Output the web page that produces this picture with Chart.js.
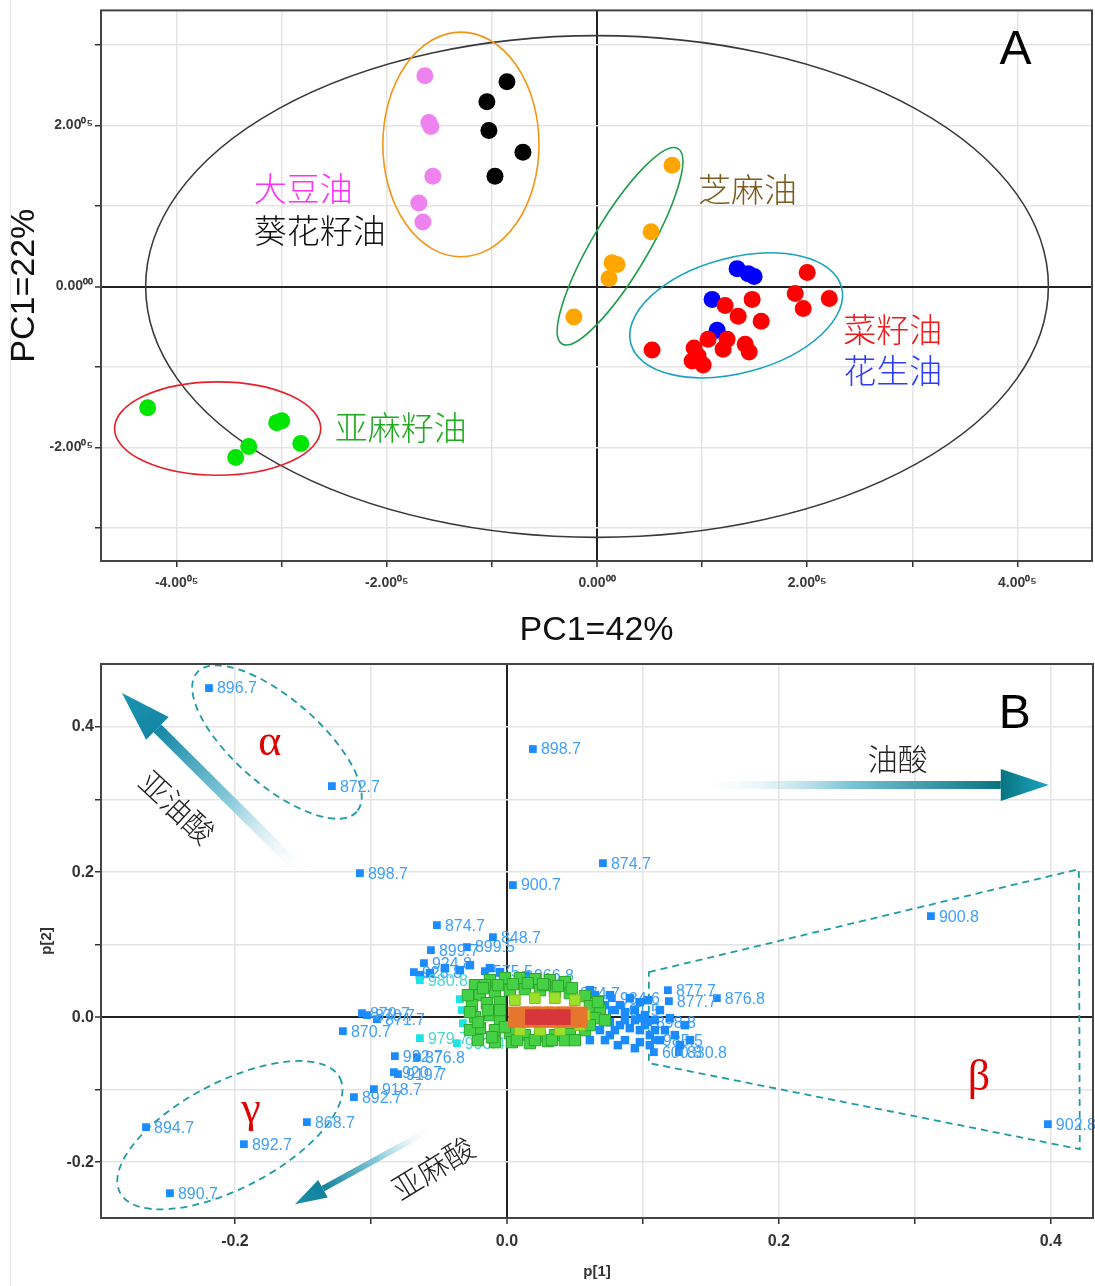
<!DOCTYPE html>
<html>
<head>
<meta charset="utf-8">
<script src="https://cdn.jsdelivr.net/npm/chart.js@4.4.1/dist/chart.umd.min.js"></script>
<style>
body { margin: 0; background: #fff; }
#wrap { position: relative; width: 1095px; height: 1286px; }
canvas { display: block; }
#edge { position: absolute; left: 10px; top: 0; width: 1px; height: 1286px; background: #e6e6e6; }
</style>
</head>
<body>
<div id="wrap">
<canvas id="chartA" width="1095" height="650"></canvas>
<canvas id="chartB" width="1095" height="636"></canvas>
<div id="edge"></div>
</div>
<script>
//////////////////////////////// A : score plot (units of 1e5) ////////////////////////////////

var soyX = [-1.638, -1.600, -1.581, -1.562, -1.695, -1.657];
var soyY = [2.617, 2.037, 1.988, 1.370, 1.037, 0.802];
var sunX = [-0.857, -1.048, -1.029, -0.705, -0.971];
var sunY = [2.543, 2.296, 1.938, 1.667, 1.370];
var sesX = [0.714, 0.514, 0.143, 0.190, 0.114, -0.220];
var sesY = [1.506, 0.679, 0.296, 0.272, 0.099, -0.380];
var rapeX = [2.000, 1.886, 1.962, 2.210, 1.476, 1.219, 1.343, 1.562, 1.057, 1.238, 1.200, 1.410, 1.448, 0.924, 0.905, 1.010, 0.962, 0.524];
var rapeY = [0.173, -0.086, -0.272, -0.148, -0.160, -0.235, -0.370, -0.432, -0.654, -0.654, -0.778, -0.716, -0.815, -0.765, -0.926, -0.975, -0.864, -0.790];
var peaX = [1.333, 1.438, 1.495, 1.095, 1.143];
var peaY = [0.222, 0.160, 0.123, -0.160, -0.543];
var linX = [-4.276, -3.048, -3.000, -3.314, -3.438, -2.819];
var linY = [-1.506, -1.691, -1.667, -1.988, -2.123, -1.951];

var ticksAX = [-4, -3, -2, -1, 0, 1, 2, 3, 4];
var ticksAXLabels = ['-4.00⁰⁵', '', '-2.00⁰⁵', '', '0.00⁰⁰', '', '2.00⁰⁵', '', '4.00⁰⁵'];
var ticksAY = [-3, -2, -1, 0, 1, 2, 3];
var ticksAYLabels = ['', '-2.00⁰⁵', '', '0.00⁰⁰', '', '2.00⁰⁵', ''];

//////////////////////////////// B : loading plot ////////////////////////////////

var loadX = [-0.2191, -0.1287, -0.1081, 0.0191, 0.0706, 0.0044, 0.3118, 0.3978,
  -0.0515, -0.0103, -0.0559, -0.0294, -0.0610, -0.0684, -0.0162, 0.0140,
  -0.1066, -0.1029, -0.0956, -0.1206, -0.0824, -0.0662, -0.0831, -0.0801,
  -0.0978, -0.1125, -0.1471, -0.2654, -0.1934, -0.2478,
  0.1184, 0.1191, 0.1544, 0.0772, 0.0478, 0.0772, 0.1037, 0.1088, 0.1081, 0.1265];
var loadY = [0.4538, 0.3186, 0.1986, 0.3697, 0.2124, 0.1821, 0.1393, -0.1476,
  0.1269, 0.1103, 0.0924, 0.0966, 0.0745, 0.0621, 0.0634, 0.0579,
  0.0055, 0.0028, -0.0028, -0.0193, -0.0538, -0.0552, -0.0759, -0.0786,
  -0.0993, -0.1103, -0.1448, -0.1517, -0.1752, -0.2428,
  0.0372, 0.0221, 0.0262, 0.0262, 0.0331, 0.0097, -0.0069, -0.0317, -0.0483, -0.0483];
var loadLabels = ['896.7', '872.7', '898.7', '898.7', '874.7', '900.7', '900.8', '902.8',
  '874.7', '848.7', '899.7', '899.5', '924.8', '928.8', '575.5', '966.8',
  '870.7', '870.7', '871.7', '870.7', '922.7', '876.8', '920.7', '919.7',
  '918.7', '892.7', '868.7', '894.7', '892.7', '890.7',
  '877.7', '877.7', '876.8', '984.6', '874.7', '101.5', '898.8', '985.5', '600.8', '830.8'];

var blueX = [0.0684, 0.0757, 0.0904, 0.0978, 0.1037, 0.0794, 0.0868, 0.0941, 0.1015, 0.1088,
  0.0757, 0.0831, 0.0904, 0.0978, 0.1051, 0.1125, 0.1162, 0.1235, 0.1309, 0.1199,
  0.0684, 0.0757, 0.0868, 0.0978, 0.0816, 0.0610, 0.0721, 0.0610,
  0.0647, 0.0721, 0.0794, 0.0868, 0.0941, 0.1015, 0.1088, 0.1125, 0.1051, 0.0941,
  0.0684, 0.0831, 0.0978, 0.1272, 0.1346,
  -0.0640, -0.0566, -0.0456, -0.0346, -0.0272, -0.0125, -0.0051];
var blueY = [0.0234, 0.0303, 0.0262, 0.0207, 0.0234, 0.0097, 0.0069, 0.0097, 0.0028, -0.0041,
  -0.0069, -0.0110, -0.0152, -0.0179, -0.0248, -0.0317, -0.0179, -0.0248, -0.0110, -0.0014,
  -0.0179, -0.0248, -0.0317, -0.0345, -0.0386, -0.0317, 0.0166, 0.0372,
  0.0303, -0.0317, -0.0179, -0.0041, -0.0041, -0.0110, -0.0179, 0.0097, -0.0386, -0.0428,
  0.0028, 0.0166, -0.0014, -0.0386, -0.0317,
  0.0579, 0.0607, 0.0676, 0.0648, 0.0717, 0.0676, 0.0621];

var cyanX = [-0.0640, -0.0346, -0.0331, -0.0324, -0.0640, -0.0368];
var cyanY = [0.0510, 0.0248, 0.0097, -0.0083, -0.0290, -0.0359];
var cyanLabels = ['980.8', '', '', '', '979.7', '993.4'];

var greenX = [-0.0235, -0.0125, -0.0015, 0.0096, 0.0206, 0.0316, 0.0426, -0.0199, -0.0088, 0.0022,
  0.0132, 0.0243, 0.0353, 0.0463, 0.0574, -0.0257, -0.0147, -0.0051, 0.0610, 0.0684,
  -0.0235, -0.0125, -0.0051, 0.0647, 0.0721, -0.0199, -0.0088, 0.0022, 0.0132, 0.0243,
  0.0353, 0.0463, 0.0574, -0.0213, -0.0088, 0.0037, 0.0169, 0.0301, 0.0426,
  -0.0162, 0.0279, -0.0287, -0.0272,
  -0.0176, -0.0066, 0.0044, 0.0154, 0.0265, 0.0375, 0.0478, -0.0140, -0.0213, -0.0110,
  -0.0015, 0.0074, 0.0206, 0.0331, 0.0500, 0.0610, 0.0669, -0.0272, -0.0051];
var greenY = [0.0441, 0.0510, 0.0538, 0.0538, 0.0524, 0.0510, 0.0483, 0.0303, 0.0345, 0.0372,
  0.0386, 0.0372, 0.0359, 0.0331, 0.0290, 0.0166, 0.0193, 0.0207, 0.0152, 0.0097,
  0.0000, 0.0028, -0.0041, -0.0014, -0.0041, -0.0152, -0.0179, -0.0221, -0.0248, -0.0262,
  -0.0248, -0.0234, -0.0179, -0.0317, -0.0345, -0.0345, -0.0359, -0.0331, -0.0317,
  0.0441, 0.0441, 0.0303, -0.0179,
  0.0400, 0.0441, 0.0455, 0.0469, 0.0455, 0.0428, 0.0400, 0.0097, -0.0069, -0.0276,
  -0.0138, -0.0317, -0.0317, -0.0317, -0.0317, -0.0110, 0.0207, 0.0069, 0.0097];

var limeX = [0.0059, 0.0206, 0.0353, 0.0500, 0.0574, 0.0537, 0.0096, 0.0243, 0.0390];
var limeY = [0.0234, 0.0262, 0.0262, 0.0234, 0.0028, -0.0110, -0.0179, -0.0179, -0.0179];
var orangeX = [0.0088, 0.0176, 0.0265, 0.0353, 0.0441, 0.0515];
var orangeY = [0.0, 0.0, 0.0, 0.0, 0.0, 0.0];
var redX = [0.0191, 0.0265, 0.0338, 0.0412];
var redY = [0.0, 0.0, 0.0, 0.0];

var ticksB = [-0.2, -0.1, 0.0, 0.1, 0.2, 0.3, 0.4];
var ticksBLabels = ['-0.2', '', '0.0', '', '0.2', '', '0.4'];

//////////////////////////////// helpers ////////////////////////////////

function pts(xs, ys) {
  return xs.map(function (v, i) { return { x: v, y: ys[i] }; });
}

function gridOpts() {
  return {
    color: function (c) { return c.tick && c.tick.value === 0 ? '#222' : '#e4e4e4'; },
    lineWidth: function (c) { return c.tick && c.tick.value === 0 ? 2 : 1.5; },
    tickLength: 6,
    tickColor: '#333',
    tickWidth: 1.5
  };
}

function drawRing(chart, r) {
  var ctx = chart.ctx, xs = chart.scales.x, ys = chart.scales.y;
  var cx = xs.getPixelForValue(r.cx), cy = ys.getPixelForValue(r.cy);
  var rx = Math.abs(xs.getPixelForValue(r.cx + r.rx) - cx);
  var ry = Math.abs(ys.getPixelForValue(r.cy + r.ry) - cy);
  ctx.beginPath();
  ctx.ellipse(cx, cy, rx, ry, (r.rot || 0) * Math.PI / 180, 0, Math.PI * 2);
  ctx.setLineDash(r.dash || []);
  ctx.lineWidth = r.width;
  ctx.strokeStyle = r.color;
  ctx.stroke();
}

function drawShape(chart, s) {
  var ctx = chart.ctx, xs = chart.scales.x, ys = chart.scales.y;
  ctx.beginPath();
  s.px.forEach(function (v, i) {
    var x = xs.getPixelForValue(v), y = ys.getPixelForValue(s.py[i]);
    if (i === 0) ctx.moveTo(x, y); else ctx.lineTo(x, y);
  });
  ctx.closePath();
  ctx.setLineDash(s.dash || []);
  ctx.lineWidth = s.width;
  ctx.strokeStyle = s.color;
  ctx.stroke();
}

function drawArrow(chart, a) {
  var ctx = chart.ctx, xs = chart.scales.x, ys = chart.scales.y;
  var x1 = xs.getPixelForValue(a.x1), y1 = ys.getPixelForValue(a.y1);
  var x2 = xs.getPixelForValue(a.x2), y2 = ys.getPixelForValue(a.y2);
  var len = Math.hypot(x2 - x1, y2 - y1);
  var ux = (x2 - x1) / len, uy = (y2 - y1) / len, nx = -uy, ny = ux;
  var bx = x2 - ux * a.head, by = y2 - uy * a.head;
  var h = a.shaft / 2;
  var g = ctx.createLinearGradient(x1, y1, bx, by);
  g.addColorStop(0, 'rgba(255,255,255,0)');
  g.addColorStop(0.5, a.mid);
  g.addColorStop(1, a.color);
  ctx.setLineDash([]);
  ctx.fillStyle = g;
  ctx.beginPath();
  ctx.moveTo(x1 + nx * h, y1 + ny * h);
  ctx.lineTo(bx + nx * h, by + ny * h);
  ctx.lineTo(bx - nx * h, by - ny * h);
  ctx.lineTo(x1 - nx * h, y1 - ny * h);
  ctx.closePath();
  ctx.fill();
  var g2 = ctx.createLinearGradient(bx, by, x2, y2);
  g2.addColorStop(0, a.color);
  g2.addColorStop(1, a.tip);
  ctx.fillStyle = g2;
  ctx.beginPath();
  ctx.moveTo(x2, y2);
  ctx.lineTo(bx + nx * a.wing, by + ny * a.wing);
  ctx.lineTo(bx - nx * a.wing, by - ny * a.wing);
  ctx.closePath();
  ctx.fill();
}

function drawText(chart, t) {
  var ctx = chart.ctx, xs = chart.scales.x, ys = chart.scales.y;
  ctx.save();
  ctx.translate(xs.getPixelForValue(t.x), ys.getPixelForValue(t.y));
  ctx.rotate((t.rot || 0) * Math.PI / 180);
  ctx.font = t.font;
  ctx.fillStyle = t.color;
  ctx.textAlign = t.align || 'center';
  ctx.textBaseline = 'middle';
  ctx.fillText(t.text, 0, 0);
  ctx.restore();
}

// extra drawing: rings, dashed shapes, arrows, texts, point labels, frame
function decorPlugin(d) {
  return {
    id: 'decor',
    beforeDatasetsDraw: function (chart) {
      var ctx = chart.ctx, a = chart.chartArea;
      ctx.save();
      ctx.beginPath();
      ctx.rect(a.left, a.top, a.right - a.left, a.bottom - a.top);
      ctx.clip();
      (d.rings || []).forEach(function (r) { drawRing(chart, r); });
      (d.shapes || []).forEach(function (s) { drawShape(chart, s); });
      (d.arrows || []).forEach(function (ar) { drawArrow(chart, ar); });
      ctx.restore();
    },
    afterDatasetDraw: function (chart, args) {
      var ds = chart.data.datasets[args.index];
      if (!ds.ptLabels) return;
      var ctx = chart.ctx;
      ctx.save();
      ctx.font = '16px "Liberation Sans", Arial, sans-serif';
      ctx.fillStyle = ds.labelColor;
      ctx.textAlign = 'left';
      ctx.textBaseline = 'middle';
      args.meta.data.forEach(function (el, i) {
        if (ds.ptLabels[i]) ctx.fillText(ds.ptLabels[i], el.x + 8, el.y + 1);
      });
      ctx.restore();
    },
    afterDatasetsDraw: function (chart) {
      (d.texts || []).forEach(function (t) { drawText(chart, t); });
    },
    afterDraw: function (chart) {
      var ctx = chart.ctx, a = chart.chartArea;
      ctx.save();
      ctx.strokeStyle = '#444';
      ctx.lineWidth = 2;
      ctx.setLineDash([]);
      ctx.strokeRect(a.left, a.top, a.right - a.left, a.bottom - a.top);
      ctx.restore();
    }
  };
}

var cjk = '"Noto Sans CJK SC", sans-serif';
var tickFontA = { size: 14, weight: 'bold', family: '"Liberation Sans", Arial, sans-serif' };
var tickFontB = { size: 16, weight: 'bold', family: '"Liberation Sans", Arial, sans-serif' };

//////////////////////////////// chart A ////////////////////////////////

var chartA = new Chart(document.getElementById('chartA'), {
  type: 'scatter',
  data: {
    datasets: [
      { data: pts(soyX, soyY), backgroundColor: '#ee82ee' },
      { data: pts(sunX, sunY), backgroundColor: '#000000' },
      { data: pts(sesX, sesY), backgroundColor: '#ffa500' },
      { data: pts(rapeX, rapeY), backgroundColor: '#ff0000' },
      { data: pts(peaX, peaY), backgroundColor: '#0000ff' },
      { data: pts(linX, linY), backgroundColor: '#00e600' }
    ]
  },
  options: {
    responsive: false,
    animation: false,
    devicePixelRatio: 1,
    layout: { padding: { left: 0, right: 3, top: 7, bottom: 0 }, autoPadding: false },
    plugins: { legend: { display: false }, tooltip: { enabled: false } },
    elements: { point: { radius: 8.5, hoverRadius: 8.5, borderWidth: 0 } },
    scales: {
      x: {
        type: 'linear', min: -4.72, max: 4.71,
        afterBuildTicks: function (s) { s.ticks = ticksAX.map(function (v) { return { value: v }; }); },
        afterFit: function (s) { s.height = 89; },
        ticks: { autoSkip: false, maxRotation: 0, padding: 8, color: '#3a3a3a', font: tickFontA,
          callback: function (v, i) { return ticksAXLabels[i]; } },
        grid: gridOpts(),
        border: { display: false },
        title: { display: true, text: 'PC1=42%', color: '#111',
          font: { size: 34, family: '"Liberation Sans", Arial, sans-serif', lineHeight: 1 },
          padding: { top: 0, bottom: 2 } }
      },
      y: {
        type: 'linear', min: -3.41, max: 3.43,
        afterBuildTicks: function (s) { s.ticks = ticksAY.map(function (v) { return { value: v }; }); },
        afterFit: function (s) { s.width = 101; },
        ticks: { autoSkip: false, padding: 2, color: '#3a3a3a', font: tickFontA,
          callback: function (v, i) { return ticksAYLabels[i]; } },
        grid: gridOpts(),
        border: { display: false },
        title: { display: true, text: 'PC1=22%', color: '#111',
          font: { size: 34, family: '"Liberation Sans", Arial, sans-serif', lineHeight: 1 },
          padding: { top: 8, bottom: 0 } }
      }
    }
  },
  plugins: [decorPlugin({
    rings: [
      { cx: 0, cy: 0, rx: 4.295, ry: 3.117, color: '#3a3a3a', width: 1.6 },
      { cx: -1.295, cy: 1.765, rx: 0.743, ry: 1.395, color: '#f39516', width: 1.6 },
      { cx: 0.219, cy: 0.50, rx: 1.081, ry: 0.346, rot: -59.3, color: '#1e9e4a', width: 1.6 },
      { cx: 1.324, cy: -0.358, rx: 1.038, ry: 0.716, rot: -15, color: '#1aa3bd', width: 1.6 },
      { cx: -3.61, cy: -1.765, rx: 0.981, ry: 0.58, color: '#e8202a', width: 1.6 }
    ],
    texts: [
      { text: '大豆油', x: -3.267, y: 1.222, color: '#ff2eff', font: '300 33px ' + cjk, align: 'left' },
      { text: '葵花籽油', x: -3.267, y: 0.691, color: '#111', font: '300 33px ' + cjk, align: 'left' },
      { text: '芝麻油', x: 0.962, y: 1.21, color: '#7b5a1e', font: '300 33px ' + cjk, align: 'left' },
      { text: '菜籽油', x: 2.343, y: -0.531, color: '#f01818', font: '300 33px ' + cjk, align: 'left' },
      { text: '花生油', x: 2.343, y: -1.049, color: '#2b3bff', font: '300 33px ' + cjk, align: 'left' },
      { text: '亚麻籽油', x: -2.495, y: -1.753, color: '#20aa20', font: '300 33px ' + cjk, align: 'left' },
      { text: 'A', x: 3.981, y: 2.926, color: '#000', font: '48px "Liberation Sans", Arial, sans-serif' }
    ]
  })]
});

//////////////////////////////// chart B ////////////////////////////////

var chartB = new Chart(document.getElementById('chartB'), {
  type: 'scatter',
  data: {
    datasets: [
      { data: pts(loadX, loadY), backgroundColor: '#1a8cff', ptLabels: loadLabels, labelColor: '#3f9ffb', order: 6 },
      { data: pts(blueX, blueY), backgroundColor: '#1a8cff', radius: 6, order: 5 },
      { data: pts(cyanX, cyanY), backgroundColor: '#1ee3e3', ptLabels: cyanLabels, labelColor: '#4cd4d4', order: 4 },
      { data: pts(greenX, greenY), backgroundColor: '#46d046', borderColor: '#2aa52a', borderWidth: 1, radius: 8, order: 3 },
      { data: pts(limeX, limeY), backgroundColor: '#9ddf2a', borderColor: '#7fbf20', borderWidth: 1, radius: 7.5, order: 2 },
      { data: pts(orangeX, orangeY), backgroundColor: '#e6762e', radius: 15, order: 1 },
      { data: pts(redX, redY), backgroundColor: '#d6363a', radius: 11, order: 0 }
    ]
  },
  options: {
    responsive: false,
    animation: false,
    devicePixelRatio: 1,
    layout: { padding: { left: 0, right: 2, top: 14, bottom: 0 }, autoPadding: false },
    plugins: { legend: { display: false }, tooltip: { enabled: false } },
    elements: { point: { pointStyle: 'rect', radius: 5.5, hoverRadius: 5.5, borderWidth: 0 } },
    scales: {
      x: {
        type: 'linear', min: -0.2985, max: 0.431,
        afterBuildTicks: function (s) { s.ticks = ticksB.map(function (v) { return { value: v }; }); },
        afterFit: function (s) { s.height = 68; },
        ticks: { autoSkip: false, maxRotation: 0, padding: 8, color: '#333', font: tickFontB,
          callback: function (v, i) { return ticksBLabels[i]; } },
        grid: gridOpts(),
        border: { display: false },
        title: { display: true, text: 'p[1]', color: '#333',
          font: { size: 15, weight: 'bold', family: '"Liberation Sans", Arial, sans-serif', lineHeight: 1 },
          padding: { top: 0, bottom: 6.5 } }
      },
      y: {
        type: 'linear', min: -0.277, max: 0.487,
        afterBuildTicks: function (s) { s.ticks = ticksB.map(function (v) { return { value: v }; }); },
        afterFit: function (s) { s.width = 101; },
        ticks: { autoSkip: false, padding: 1, color: '#333', font: tickFontB,
          callback: function (v, i) { return ticksBLabels[i]; } },
        grid: gridOpts(),
        border: { display: false },
        title: { display: true, text: 'p[2]', color: '#333',
          font: { size: 15, weight: 'bold', family: '"Liberation Sans", Arial, sans-serif', lineHeight: 1 },
          padding: { top: 39.5, bottom: 0 } }
      }
    }
  },
  plugins: [decorPlugin({
    rings: [
      { cx: -0.1691, cy: 0.3793, rx: 0.0779, ry: 0.0593, rot: 41, color: '#1f9ba6', width: 1.8, dash: [7, 5] },
      { cx: -0.2037, cy: -0.1628, rx: 0.0912, ry: 0.0731, rot: -27.6, color: '#1f9ba6', width: 1.8, dash: [7, 5] }
    ],
    shapes: [
      { px: [0.1044, 0.4206, 0.4213, 0.1044], py: [0.0621, 0.2041, -0.1821, -0.0634], color: '#1f9ba6', width: 1.8, dash: [7, 5] }
    ],
    arrows: [
      { x1: -0.1485, y1: 0.1959, x2: -0.2831, y2: 0.4469, shaft: 11, head: 50, wing: 16, mid: '#8ccbdc', color: '#1487a5', tip: '#1b93b3' },
      { x1: 0.1397, y1: 0.32, x2: 0.3985, y2: 0.32, shaft: 8, head: 48, wing: 16, mid: '#7cc4d6', color: '#06747f', tip: '#1ea6c2' },
      { x1: -0.0529, y1: -0.1517, x2: -0.1559, y2: -0.2579, shaft: 6, head: 32, wing: 10, mid: '#8ccbdc', color: '#12829b', tip: '#1a90ad' }
    ],
    texts: [
      { text: '亚油酸', x: -0.2426, y: 0.2897, rot: 43, color: '#222', font: '300 30px ' + cjk },
      { text: '油酸', x: 0.2875, y: 0.3572, color: '#222', font: '300 30px ' + cjk },
      { text: '亚麻酸', x: -0.0544, y: -0.2083, rot: -31.5, color: '#222', font: '300 30px ' + cjk },
      { text: 'α', x: -0.1743, y: 0.3779, color: '#e00000', font: '44px "Liberation Serif", serif' },
      { text: 'β', x: 0.3471, y: -0.0841, color: '#e00000', font: '44px "Liberation Serif", serif' },
      { text: 'γ', x: -0.1882, y: -0.1283, color: '#e00000', font: '44px "Liberation Serif", serif' },
      { text: 'B', x: 0.3735, y: 0.4166, color: '#000', font: '48px "Liberation Sans", Arial, sans-serif' }
    ]
  })]
});
</script>
</body>
</html>
